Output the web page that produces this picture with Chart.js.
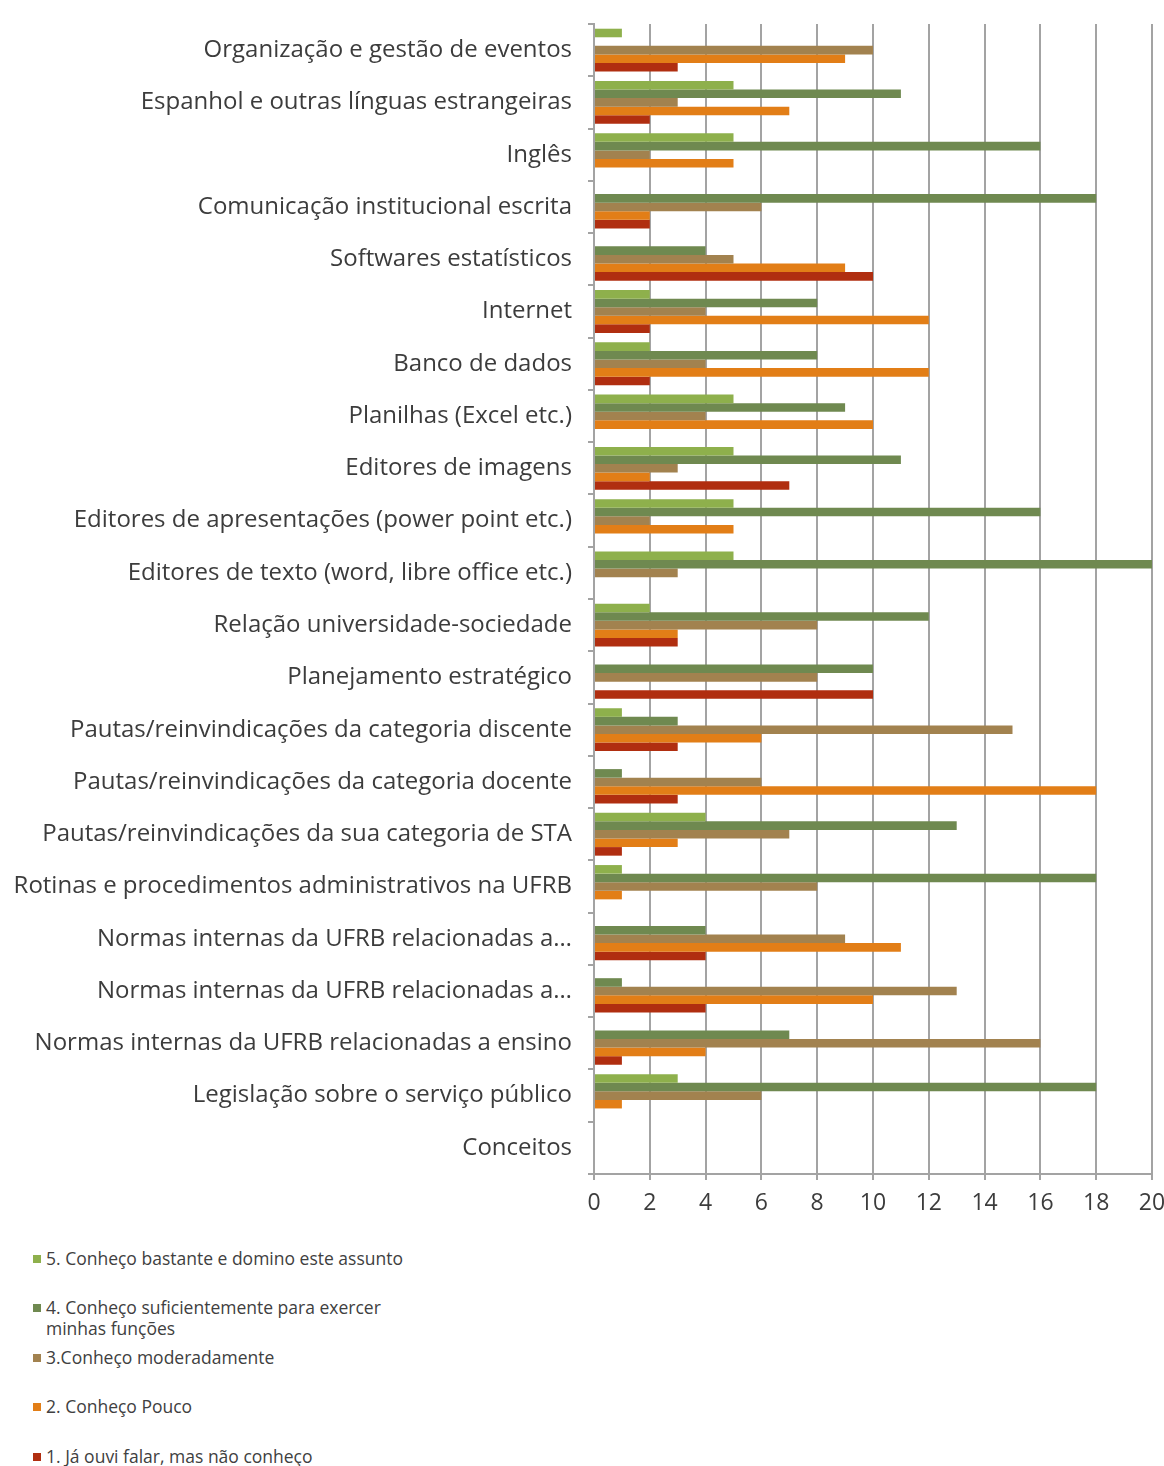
<!DOCTYPE html>
<html>
<head>
<meta charset="utf-8">
<script src="https://cdn.jsdelivr.net/npm/chart.js@4"></script>
<style>
  body { margin: 0; background: #fff; font-family: 'Open Sans', sans-serif; }
  #wrap { position: relative; width: 1164px; height: 1232px; }
  #legend { position: absolute; left: 33px; top: 1248px; width: 380px; color: #404040; font-size: 17.5px; }
  .item { position: relative; height: 49.4px; line-height: 21px; padding-left: 13px; }
  .sw { position: absolute; left: 0; top: 7px; width: 8px; height: 8px; }
</style>
</head>
<body>
<div id="wrap"><canvas id="chart"></canvas></div>
<div id="legend"></div>
<script>
const categories = [
  'Organização e gestão de eventos',
  'Espanhol e outras línguas estrangeiras',
  'Inglês',
  'Comunicação institucional escrita',
  'Softwares estatísticos',
  'Internet',
  'Banco de dados',
  'Planilhas (Excel etc.)',
  'Editores de imagens',
  'Editores de apresentações (power point etc.)',
  'Editores de texto (word, libre office etc.)',
  'Relação universidade-sociedade',
  'Planejamento estratégico',
  'Pautas/reinvindicações da categoria discente',
  'Pautas/reinvindicações da categoria docente',
  'Pautas/reinvindicações da sua categoria de STA',
  'Rotinas e procedimentos administrativos na UFRB',
  'Normas internas da UFRB relacionadas a…',
  'Normas internas da UFRB relacionadas a…',
  'Normas internas da UFRB relacionadas a ensino',
  'Legislação sobre o serviço público',
  'Conceitos'
];

const seriesNames = [
  '5. Conheço bastante e domino este assunto',
  '4. Conheço suficientemente para exercer minhas funções',
  '3.Conheço moderadamente',
  '2. Conheço Pouco',
  '1. Já ouvi falar, mas não conheço'
];

const conhecoBastante =   [1, 5, 5, 0, 0, 2, 2, 5, 5, 5, 5, 2, 0, 1, 0, 4, 1, 0, 0, 0, 3, 0];
const conhecoSuficiente = [0, 11, 16, 18, 4, 8, 8, 9, 11, 16, 20, 12, 10, 3, 1, 13, 18, 4, 1, 7, 18, 0];
const conhecoModerado =   [10, 3, 2, 6, 5, 4, 4, 4, 3, 2, 3, 8, 8, 15, 6, 7, 8, 9, 13, 16, 6, 0];
const conhecoPouco =      [9, 7, 5, 2, 9, 12, 12, 10, 2, 5, 0, 3, 0, 6, 18, 3, 1, 11, 10, 4, 1, 0];
const jaOuvi =            [3, 2, 0, 2, 10, 2, 2, 0, 7, 0, 0, 3, 10, 3, 3, 1, 0, 4, 4, 1, 0, 0];

const xTicks = [0, 2, 4, 6, 8, 10, 12, 14, 16, 18, 20];

const colors = ['#8eb04c', '#6f8950', '#a2824f', '#e27e17', '#b02e10'];
const values = [conhecoBastante, conhecoSuficiente, conhecoModerado, conhecoPouco, jaOuvi];

const textColor = '#3c3c3c';
const gridColor = '#a3a3a3';

new Chart(document.getElementById('chart'), {
  type: 'bar',
  data: {
    labels: categories,
    datasets: seriesNames.map((name, i) => ({
      label: name,
      data: values[i],
      backgroundColor: colors[i],
      borderWidth: 0,
      categoryPercentage: 0.82,
      barPercentage: 1.0
    }))
  },
  options: {
    indexAxis: 'y',
    responsive: true,
    maintainAspectRatio: false,
    animation: false,
    layout: { padding: { top: 24, right: 0, left: 0, bottom: 0 } },
    plugins: {
      legend: { display: false },
      tooltip: { enabled: false }
    },
    scales: {
      x: {
        min: 0,
        max: 20,
        afterBuildTicks: (scale) => { scale.ticks = xTicks.map(v => ({ value: v })); },
        afterFit: (scale) => {
          scale.height = 58;
          scale.paddingLeft = 0;
          scale.paddingRight = 12;
        },
        grid: { color: gridColor, lineWidth: 2, tickLength: 6 },
        border: { color: gridColor, width: 2 },
        ticks: { color: textColor, font: { family: 'Open Sans', size: 23 }, padding: 10 }
      },
      y: {
        afterFit: (scale) => {
          scale.width = 594;
          scale.paddingTop = 0;
          scale.paddingBottom = 0;
        },
        grid: { drawOnChartArea: false, color: gridColor, lineWidth: 2, tickLength: 6 },
        border: { color: gridColor, width: 2 },
        ticks: { color: textColor, font: { family: 'Open Sans', size: 24 }, padding: 16, autoSkip: false }
      }
    }
  }
});

const legend = document.getElementById('legend');
seriesNames.forEach((name, i) => {
  const item = document.createElement('div');
  item.className = 'item';
  item.innerHTML = '<span class="sw" style="background:' + colors[i] + '"></span>' + name;
  legend.appendChild(item);
});
</script>
</body>
</html>
